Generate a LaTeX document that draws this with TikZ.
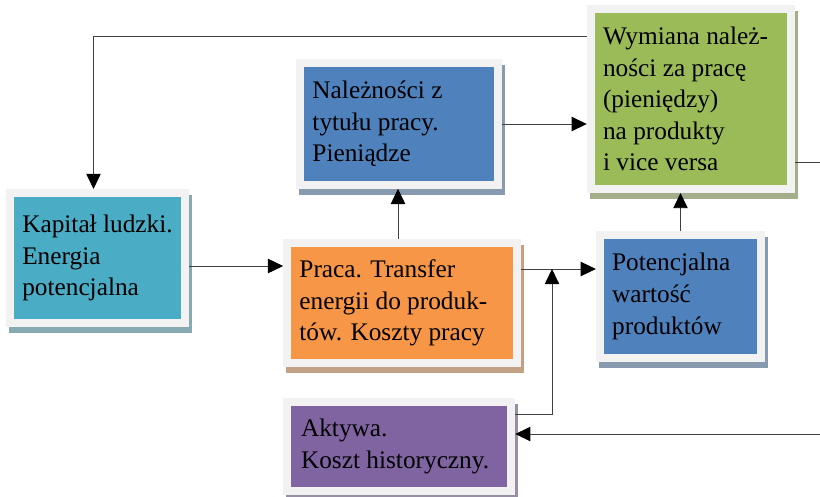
\documentclass[tikz,border=0pt]{standalone}
\usepackage{fontspec}
\setmainfont{Liberation Serif}
\usepackage{xcolor}
\definecolor{bxteal}{HTML}{4BACC6}
\definecolor{bxorange}{HTML}{F79646}
\definecolor{bxgreen}{HTML}{9BBB59}
\definecolor{bxblue}{HTML}{4F81BD}
\definecolor{bxpurple}{HTML}{8064A2}
\definecolor{bxframe}{HTML}{F2F2F2}
\definecolor{bxline}{HTML}{404040}
\usetikzlibrary{arrows.meta, positioning, shadows, calc}

\begin{document}
\begin{tikzpicture}[x=0.025cm, y=-0.025cm,
  box/.style={rectangle, draw=bxframe, line width=0.2cm, fill=#1, inner sep=0pt,
              drop shadow={shadow xshift=0.075cm, shadow yshift=-0.15cm,
                           opacity=1, fill=#1!45!gray!80, draw=#1!45!gray!80}},
  btext/.style={anchor=west, inner sep=0pt, align=left,
                font=\fontsize{18}{22.5}\selectfont},
  link/.style={draw=bxline, line width=0.7pt},
  arr/.style={link, -{Triangle[length=3.8mm, width=3.6mm, black]}}
]
\useasboundingbox (0,0) rectangle (820,496);

% Box 1: Kapital ludzki
\node[box=bxteal, minimum width=4.375cm, minimum height=3.25cm] (kap) at (97.5,258) {};
\node[btext] (kap-t) at ([xshift=0.4cm]kap.west) {Kapitał ludzki.\\Energia\\potencjalna};

% Box 2: Praca
\node[box=bxorange, minimum width=5.74cm, minimum height=2.99cm] (pra) at (402,303) {};
\node[btext] (pra-t) at ([xshift=0.4cm]pra.west) {Praca. Transfer\\energii do produk-\\tów. Koszty pracy};

% Box 3: Naleznosci
\node[box=bxblue, minimum width=4.94cm, minimum height=3.04cm] (nal) at (399,124) {};
\node[btext] (nal-t) at ([xshift=0.4cm]nal.west) {Należności z\\tytułu pracy.\\Pieniądze};

% Box 4: Wymiana
\node[box=bxgreen, minimum width=5.01cm, minimum height=4.5cm] (wym) at (691,99) {};
\node[btext] (wym-t) at ([xshift=0.4cm]wym.west) {Wymiana należ-\\ności za pracę\\(pieniędzy)\\na produkty\\i vice versa};

% Box 5: Potencjalna wartosc
\node[box=bxblue, minimum width=4.03cm, minimum height=3.08cm] (pot) at (680.5,296.5) {};
\node[btext] (pot-t) at ([xshift=0.4cm]pot.west) {Potencjalna\\wartość\\produktów};

% Box 6: Aktywa
\node[box=bxpurple, minimum width=5.61cm, minimum height=2.23cm] (akt) at (399,446.5) {};
\node[btext] (akt-t) at ([xshift=0.45cm]akt.west) {Aktywa.\\Koszt historyczny.};

% free ends at the right edge
\coordinate (rout) at (820,162);
\coordinate (rin) at (820,434);
\coordinate (join) at (552,269);

% connectors
\draw[arr] ([yshift=-0.8cm]wym.north west) -| ([xshift=-0.1cm]kap.north);
\draw[arr] ([yshift=-0.2cm]kap.east) -- ([yshift=-0.2cm]kap.east -| pra.west);
\draw[arr] ([xshift=-0.1cm]pra.north) -- ([xshift=-0.1cm]pra.north |- nal.south);
\draw[arr] (nal.east) -- (nal.east -| wym.west);
\draw[arr] (pot.north) -- (pot.north |- wym.south);
\draw[arr] ([yshift=0.85cm]pra.east) -- ([yshift=0.85cm]pra.east -| pot.west);
\draw[arr] ([yshift=0.8cm]akt.east) -| (join);
\draw[arr] (rin) -- (rin -| akt.east);
\draw[link] (rout -| wym.east) -- (rout);
\end{tikzpicture}
\end{document}
